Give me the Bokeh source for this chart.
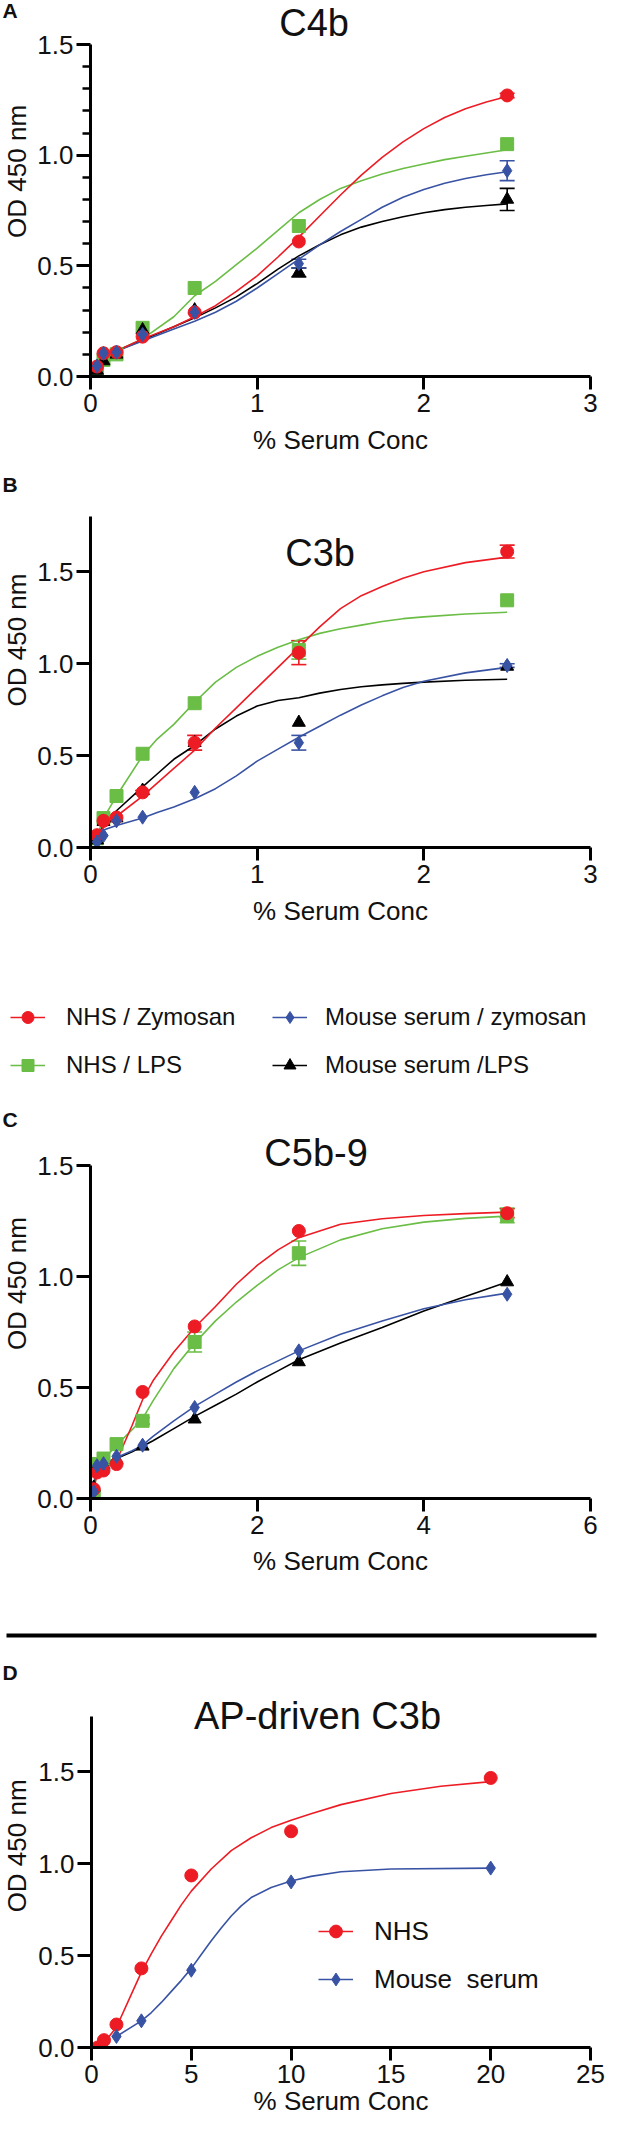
import math
import numpy as np
from bokeh.plotting import figure
from bokeh.layouts import column, row
from bokeh.models import (Range1d, FixedTicker, PrintfTickFormatter, Label, Legend,
                          LegendItem, Whisker, TeeHead, ColumnDataSource, Span)
from bokeh.embed import file_html
from bokeh.resources import INLINE

FONT = "Liberation Sans"
RED, GREEN, BLUE, BLACK = "#ED1C24", "#6ABD45", "#3953A4", "#000000"
TXT = "#111111"

# ---------------- Panel A : C4b ----------------
A_x = [0.039, 0.078, 0.156, 0.3125, 0.625, 1.25, 2.5]
A_nhs_zym = [0.045, 0.105, 0.11, 0.18, 0.29, 0.61, 1.27]
A_nhs_zym_err = [0, 0, 0, 0, 0, 0, 0.01]
A_nhs_lps = [0.02, 0.075, 0.10, 0.22, 0.40, 0.68, 1.05]
A_nhs_lps_err = [0, 0, 0, 0, 0, 0, 0]
A_mouse_zym = [0.048, 0.105, 0.11, 0.19, 0.29, 0.51, 0.93]
A_mouse_zym_err = [0, 0, 0, 0, 0, 0.02, 0.045]
A_mouse_lps = [0.027, 0.07, 0.10, 0.21, 0.30, 0.47, 0.80]
A_mouse_lps_err = [0, 0, 0, 0, 0, 0.02, 0.05]
A_fit_x = [0.039, 0.078, 0.156, 0.3125, 0.5, 0.625, 0.75, 0.875, 1.0, 1.125, 1.25, 1.375,
           1.5, 1.625, 1.75, 1.875, 2.0, 2.125, 2.25, 2.375, 2.5]
A_fit_nhs_zym = [0.05, 0.09, 0.115, 0.17, 0.225, 0.27, 0.32, 0.385, 0.455, 0.54, 0.63, 0.725,
                 0.82, 0.91, 0.99, 1.06, 1.12, 1.17, 1.21, 1.24, 1.265]
A_fit_nhs_lps = [0.05, 0.09, 0.115, 0.17, 0.27, 0.365, 0.43, 0.505, 0.58, 0.66, 0.74, 0.80,
                 0.85, 0.885, 0.915, 0.94, 0.96, 0.98, 0.995, 1.01, 1.025]
A_fit_mouse_zym = [0.05, 0.09, 0.115, 0.16, 0.215, 0.25, 0.29, 0.34, 0.40, 0.465, 0.53, 0.595,
                   0.655, 0.71, 0.765, 0.81, 0.845, 0.873, 0.895, 0.912, 0.925]
A_fit_mouse_lps = [0.05, 0.09, 0.115, 0.165, 0.225, 0.265, 0.31, 0.36, 0.42, 0.485, 0.545, 0.595,
                   0.64, 0.675, 0.70, 0.722, 0.74, 0.754, 0.765, 0.773, 0.78]

# ---------------- Panel B : C3b ----------------
B_x = [0.039, 0.078, 0.156, 0.3125, 0.625, 1.25, 2.5]
B_nhs_zym = [0.067, 0.145, 0.163, 0.30, 0.57, 1.06, 1.61]
B_nhs_zym_err = [0, 0, 0, 0.01, 0.04, 0.065, 0.035]
B_nhs_lps = [0.05, 0.16, 0.28, 0.51, 0.785, 1.075, 1.345]
B_nhs_lps_err = [0, 0, 0, 0, 0, 0.05, 0]
B_mouse_zym = [0.03, 0.065, 0.145, 0.165, 0.30, 0.57, 0.99]
B_mouse_zym_err = [0, 0, 0, 0, 0, 0.04, 0.01]
B_mouse_lps = [0.04, 0.14, 0.16, 0.31, 0.57, 0.68, 0.985]
B_mouse_lps_err = [0, 0, 0, 0, 0, 0, 0]
B_fit_x = [0.039, 0.078, 0.156, 0.3125, 0.4, 0.5, 0.625, 0.75, 0.875, 1.0, 1.125, 1.25, 1.375,
           1.5, 1.625, 1.75, 1.875, 2.0, 2.25, 2.5]
B_fit_nhs_zym = [0.065, 0.11, 0.17, 0.28, 0.35, 0.43, 0.53, 0.65, 0.76, 0.87, 0.98, 1.09, 1.20,
                 1.30, 1.37, 1.42, 1.465, 1.50, 1.55, 1.58]
B_fit_nhs_lps = [0.06, 0.16, 0.28, 0.50, 0.59, 0.67, 0.79, 0.90, 0.98, 1.04, 1.09, 1.13, 1.165,
                 1.19, 1.21, 1.23, 1.245, 1.255, 1.27, 1.28]
B_fit_mouse_zym = [0.08, 0.095, 0.12, 0.16, 0.19, 0.22, 0.265, 0.32, 0.39, 0.47, 0.535, 0.60,
                   0.66, 0.72, 0.775, 0.825, 0.87, 0.905, 0.95, 0.98]
B_fit_mouse_lps = [0.06, 0.12, 0.20, 0.33, 0.40, 0.48, 0.555, 0.645, 0.715, 0.77, 0.80, 0.815,
                   0.84, 0.86, 0.875, 0.885, 0.893, 0.90, 0.91, 0.915]

# ---------------- Panel C : C5b-9 ----------------
C_x = [0.039, 0.078, 0.156, 0.3125, 0.625, 1.25, 2.5, 5.0]
C_nhs_zym = [0.042, 0.117, 0.126, 0.155, 0.48, 0.775, 1.205, 1.285]
C_nhs_zym_err = [0, 0, 0, 0, 0, 0, 0, 0.02]
C_nhs_lps = [0.012, 0.155, 0.18, 0.245, 0.35, 0.705, 1.105, 1.275]
C_nhs_lps_err = [0, 0, 0, 0, 0.015, 0.045, 0.055, 0.033]
C_mouse_zym = [0.03, 0.148, 0.157, 0.19, 0.24, 0.41, 0.665, 0.92]
C_mouse_zym_err = [0, 0, 0, 0, 0, 0, 0, 0]
C_mouse_lps = [0.05, 0.14, 0.15, 0.175, 0.235, 0.357, 0.615, 0.975]
C_mouse_lps_err = [0, 0, 0, 0, 0, 0, 0, 0]
C_fit_x = [0.039, 0.078, 0.156, 0.3125, 0.5, 0.625, 0.75, 1.0, 1.25, 1.5, 1.75, 2.0, 2.25, 2.5,
           3.0, 3.5, 4.0, 4.5, 5.0]
C_fit_nhs_zym = [0.042, 0.112, 0.13, 0.17, 0.33, 0.445, 0.53, 0.66, 0.77, 0.865, 0.965, 1.05,
                 1.12, 1.175, 1.235, 1.26, 1.275, 1.283, 1.29]
C_fit_nhs_lps = [0.012, 0.14, 0.175, 0.24, 0.31, 0.36, 0.44, 0.585, 0.70, 0.80, 0.885, 0.96,
                 1.03, 1.085, 1.165, 1.215, 1.245, 1.262, 1.272]
C_fit_mouse_zym = [0.03, 0.14, 0.155, 0.185, 0.215, 0.24, 0.28, 0.35, 0.415, 0.47, 0.525, 0.575,
                   0.62, 0.665, 0.74, 0.80, 0.855, 0.895, 0.925]
C_fit_mouse_lps = [0.05, 0.13, 0.145, 0.18, 0.21, 0.235, 0.26, 0.315, 0.37, 0.42, 0.47, 0.525,
                   0.575, 0.625, 0.70, 0.77, 0.845, 0.91, 0.975]

# ---------------- Panel D : AP-driven C3b ----------------
D_x_nhs = [0.3125, 0.625, 1.25, 2.5, 5, 10, 20]
D_nhs = [0.0, 0.04, 0.125, 0.43, 0.935, 1.175, 1.465]
D_x_mouse = [1.25, 2.5, 5, 10, 20]
D_mouse = [0.06, 0.145, 0.42, 0.90, 0.975]
D_fit_x_nhs = [0.3125, 0.625, 1.25, 2.0, 2.5, 3, 3.5, 4, 4.5, 5, 6, 7, 8, 9, 10, 11, 12.5, 15,
               17.5, 20]
D_fit_nhs = [0.0, 0.025, 0.11, 0.29, 0.41, 0.51, 0.605, 0.69, 0.775, 0.85, 0.97, 1.07, 1.14,
             1.195, 1.235, 1.27, 1.32, 1.38, 1.42, 1.445]
D_fit_x_mouse = [1.25, 2.5, 3, 3.5, 4, 4.5, 5, 5.5, 6, 6.5, 7, 7.5, 8, 9, 10, 11, 12.5, 15, 20]
D_fit_mouse = [0.06, 0.145, 0.19, 0.245, 0.305, 0.365, 0.43, 0.505, 0.58, 0.65, 0.715, 0.77,
               0.815, 0.87, 0.905, 0.93, 0.955, 0.97, 0.975]

SERIES_LABELS = ["NHS / Zymosan", "NHS / LPS", "Mouse serum / zymosan", "Mouse serum /LPS"]
D_LABELS = ["NHS", "Mouse  serum"]
X_TITLE = "% Serum Conc"
Y_TITLE = "OD 450 nm"

PAGE_W = 627
LEFT_W = 34          # narrow column holding panel letter and y title
MAIN_W = PAGE_W - LEFT_W

STYLE = {
    "nhs_zym": (RED, "circle", 13),
    "nhs_lps": (GREEN, "square", 13),
    "mouse_zym": (BLUE, "diamond", 14),
    "mouse_lps": (BLACK, "triangle", 13),
}


def bare_fig(w, h, xr, yr, **kw):
    f = figure(width=w, height=h, output_backend="svg", toolbar_location=None, title=None,
               x_axis_type=None, y_axis_type=None, x_range=Range1d(*xr), y_range=Range1d(*yr),
               min_border=0, **kw)
    f.outline_line_color = None
    f.grid.visible = False
    return f


def text_label(f, x, y, text, size, bold=False, align="center", angle=0.0):
    f.add_layout(Label(x=x, y=y, text=text, text_font=FONT, text_font_size=f"{size}px",
                       text_font_style="bold" if bold else "normal", text_color=TXT,
                       text_align=align, text_baseline="middle", angle=angle))


def left_column(top, height, letter, letter_y, ylab_y):
    f = bare_fig(LEFT_W, height, (0, LEFT_W), (0, height))
    bottom = top + height
    text_label(f, 10 - 8, bottom - letter_y, letter, 21, bold=True, align="left")
    text_label(f, 24 - 8, bottom - ylab_y, Y_TITLE, 26, angle=math.pi / 2)
    return f


def main_panel(top, height, x0, x_right, x_end, y0, y_axis_top, yppu, xticks, yticks,
               yminor=None, xlab_standoff=10):
    xppu = (x_right - x0) / x_end
    y_top = (y0 - top) / yppu
    p = figure(width=MAIN_W, height=height, output_backend="svg", toolbar_location=None, title=None,
               x_range=Range1d(0, x_end), y_range=Range1d(0, y_top),
               min_border_left=int(round(x0 - 8 - LEFT_W)),
               min_border_right=int(round(8 + PAGE_W - x_right)),
               min_border_top=0, min_border_bottom=int(round(top + height - y0)))
    p.outline_line_color = None
    p.grid.visible = False
    for ax in (p.xaxis[0], p.yaxis[0]):
        ax.axis_line_width = 3
        ax.axis_line_color = BLACK
        ax.major_tick_line_width = 3
        ax.major_tick_line_color = BLACK
        ax.major_tick_in = 0
        ax.minor_tick_in = 0
        ax.major_label_text_font = FONT
        ax.major_label_text_font_size = "26px"
        ax.major_label_text_color = TXT
    xa, ya = p.xaxis[0], p.yaxis[0]
    xa.bounds = (0, x_end)
    ya.bounds = (0, y_axis_top)
    xa.ticker = FixedTicker(ticks=xticks)
    xa.major_tick_out = 13
    xa.major_label_standoff = 4
    xa.minor_tick_line_color = None
    xa.axis_label = X_TITLE
    xa.axis_label_text_font = FONT
    xa.axis_label_text_font_size = "26px"
    xa.axis_label_text_font_style = "normal"
    xa.axis_label_text_color = TXT
    xa.axis_label_standoff = xlab_standoff
    ya.ticker = FixedTicker(ticks=yticks, minor_ticks=yminor or [])
    ya.formatter = PrintfTickFormatter(format="%.1f")
    ya.major_tick_out = 14
    ya.major_label_standoff = 3
    if yminor:
        ya.minor_tick_out = 8
        ya.minor_tick_line_width = 2.5
        ya.minor_tick_line_color = BLACK
    else:
        ya.minor_tick_line_color = None

    def to_data(px, py):
        return (px - x0) / xppu, (y0 - py) / yppu
    return p, to_data


def add_whiskers(p, xs, ys, errs, color):
    ex = [x for x, e in zip(xs, errs) if e > 0]
    if not ex:
        return
    up = [y + e for y, e in zip(ys, errs) if e > 0]
    lo = [y - e for y, e in zip(ys, errs) if e > 0]
    src = ColumnDataSource(dict(x=ex, upper=up, lower=lo))
    p.add_layout(Whisker(source=src, base="x", upper="upper", lower="lower", dimension="height",
                         line_color=color, line_width=1.6,
                         upper_head=TeeHead(size=15, line_color=color, line_width=1.6),
                         lower_head=TeeHead(size=15, line_color=color, line_width=1.6)))


def four_series(p, xs, data):
    for key in ["nhs_lps", "mouse_lps", "mouse_zym", "nhs_zym"]:
        ys, errs, fx, fy = data[key]
        c, m, s = STYLE[key]
        p.line(fx, fy, line_color=c, line_width=1.6)
        add_whiskers(p, xs, ys, errs, c)
    for key in ["nhs_lps", "mouse_lps", "nhs_zym", "mouse_zym"]:
        ys, errs, fx, fy = data[key]
        c, m, s = STYLE[key]
        p.scatter(xs, ys, marker=m, size=s, fill_color=c, line_color=c)


def style_legend(lg, gh, spacing, font_px, standoff=21):
    lg.label_text_font = FONT
    lg.label_text_font_size = f"{font_px}px"
    lg.label_text_color = TXT
    lg.glyph_width = 35
    lg.glyph_height = gh
    lg.label_height = gh
    lg.label_standoff = standoff
    lg.padding = 0
    lg.margin = 0
    lg.spacing = spacing
    lg.border_line_color = None
    lg.background_fill_alpha = 0
    lg.orientation = "vertical"


# ---- Block A (orig y 8..470)
lA = left_column(8, 462, "A", 20, 218)
pA, dA = main_panel(8, 462, 97, 598, 3, 384, 1.5, 221.3, [0, 1, 2, 3], [0, 0.5, 1.0, 1.5],
                    [0.1, 0.2, 0.3, 0.4, 0.6, 0.7, 0.8, 0.9, 1.1, 1.2, 1.3, 1.4], xlab_standoff=10)
four_series(pA, A_x, {
    "nhs_zym": (A_nhs_zym, A_nhs_zym_err, A_fit_x, A_fit_nhs_zym),
    "nhs_lps": (A_nhs_lps, A_nhs_lps_err, A_fit_x, A_fit_nhs_lps),
    "mouse_zym": (A_mouse_zym, A_mouse_zym_err, A_fit_x, A_fit_mouse_zym),
    "mouse_lps": (A_mouse_lps, A_mouse_lps_err, A_fit_x, A_fit_mouse_lps),
})
x, y = dA(321, 30)
text_label(pA, x, y, "C4b", 38)

# ---- Block B (orig y 470..945)
lB = left_column(470, 475, "B", 497, 689)
pB, dB = main_panel(470, 475, 97, 598, 3, 855, 1.8, 183.8, [0, 1, 2, 3], [0, 0.5, 1.0, 1.5],
                    xlab_standoff=10)
four_series(pB, B_x, {
    "nhs_zym": (B_nhs_zym, B_nhs_zym_err, B_fit_x, B_fit_nhs_zym),
    "nhs_lps": (B_nhs_lps, B_nhs_lps_err, B_fit_x, B_fit_nhs_lps),
    "mouse_zym": (B_mouse_zym, B_mouse_zym_err, B_fit_x, B_fit_mouse_zym),
    "mouse_lps": (B_mouse_lps, B_mouse_lps_err, B_fit_x, B_fit_mouse_lps),
})
x, y = dB(327, 560)
text_label(pB, x, y, "C3b", 38)

# ---- Shared legend (orig y 945..1110)
pL = bare_fig(PAGE_W, 165, (0, 1), (0, 1))
leg_items = []
for key, lab in zip(["nhs_zym", "nhs_lps", "mouse_zym", "mouse_lps"], SERIES_LABELS):
    c, m, s = STYLE[key]
    rl = pL.line(np.array([np.nan]), np.array([np.nan]), line_color=c, line_width=1.6)
    rs = pL.scatter(np.array([np.nan]), np.array([np.nan]), marker=m, size=s, fill_color=c, line_color=c)
    leg_items.append(LegendItem(label=lab, renderers=[rl, rs]))
lg1 = Legend(items=leg_items[:2], location=(4, 22))
lg2 = Legend(items=leg_items[2:], location=(266, 22))
style_legend(lg1, 30, 18, 24)
style_legend(lg2, 30, 18, 24, standoff=18)
pL.add_layout(lg1)
pL.add_layout(lg2)

# ---- Block C (orig y 1110..1615)
lC = left_column(1110, 505, "C", 1132, 1341)
pC, dC = main_panel(1110, 505, 97, 598, 6, 1506, 1.5, 222.0, [0, 2, 4, 6], [0, 0.5, 1.0, 1.5],
                    xlab_standoff=9)
four_series(pC, C_x, {
    "nhs_zym": (C_nhs_zym, C_nhs_zym_err, C_fit_x, C_fit_nhs_zym),
    "nhs_lps": (C_nhs_lps, C_nhs_lps_err, C_fit_x, C_fit_nhs_lps),
    "mouse_zym": (C_mouse_zym, C_mouse_zym_err, C_fit_x, C_fit_mouse_zym),
    "mouse_lps": (C_mouse_lps, C_mouse_lps_err, C_fit_x, C_fit_mouse_lps),
})
x, y = dC(323, 1160)
text_label(pC, x, y, "C5b-9", 38)

# ---- Separator (orig y 1615..1661)
pS = bare_fig(PAGE_W, 46, (0, 1), (0, 46), min_border_left=6, min_border_right=31)
pS.add_layout(Span(location=18, dimension="width", line_color=BLACK, line_width=4, line_cap="round"))

# ---- Block D (orig y 1661..2130)
D_TOP = 1661
lD = left_column(D_TOP, 469, "D", 1684, 1890)
pD, dD = main_panel(D_TOP, 469, 99, 598, 25, 2055, 1.8, 184.0, [0, 5, 10, 15, 20, 25],
                    [0, 0.5, 1.0, 1.5], xlab_standoff=0)
rDn = pD.line(D_fit_x_nhs, D_fit_nhs, line_color=RED, line_width=1.6)
rDm = pD.line(D_fit_x_mouse, D_fit_mouse, line_color=BLUE, line_width=1.6)
sDn = pD.scatter(D_x_nhs, D_nhs, marker="circle", size=13, fill_color=RED, line_color=RED)
sDm = pD.scatter(D_x_mouse, D_mouse, marker="diamond", size=14, fill_color=BLUE, line_color=BLUE)
lgD = Legend(items=[LegendItem(label=D_LABELS[0], renderers=[rDn, sDn]),
                    LegendItem(label=D_LABELS[1], renderers=[rDm, sDm])],
             location=(326 - 99, 52))
style_legend(lgD, 32, 16, 26)
pD.add_layout(lgD)
x, y = dD(325, 1723)
text_label(pD, x, y, "AP-driven C3b", 38)

page = column(row(lA, pA, spacing=0), row(lB, pB, spacing=0), pL,
              row(lC, pC, spacing=0), pS, row(lD, pD, spacing=0), spacing=0)
open("out.html", "w").write(file_html(page, INLINE))
